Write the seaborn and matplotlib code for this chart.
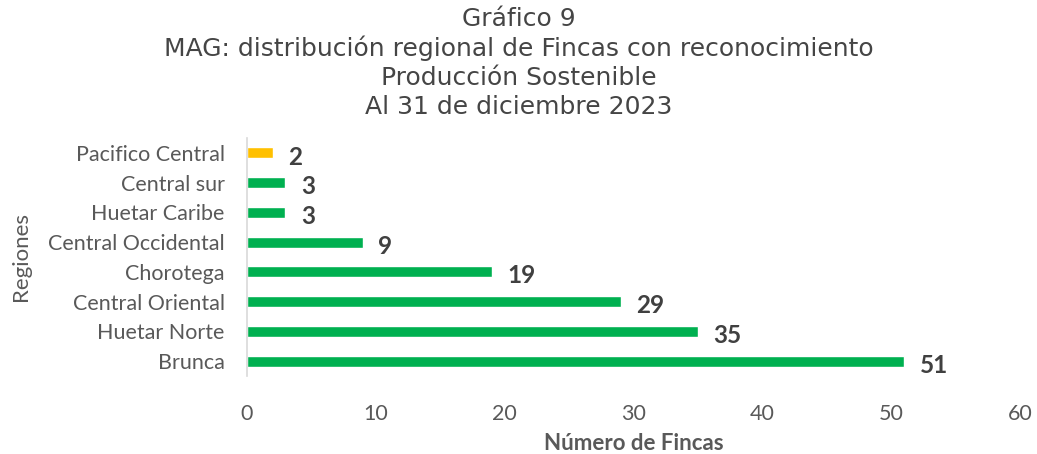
import matplotlib
matplotlib.use('Agg')
import matplotlib.pyplot as plt
import seaborn as sns
import pandas as pd

# Data
regiones = ['Pacifico Central', 'Central sur', 'Huetar Caribe', 'Central Occidental',
            'Chorotega', 'Central Oriental', 'Huetar Norte', 'Brunca']
fincas = [2, 3, 3, 9, 19, 29, 35, 51]
colores = ['#FFC000', '#00B050', '#00B050', '#00B050', '#00B050', '#00B050', '#00B050', '#00B050']

df = pd.DataFrame({'Region': regiones, 'Fincas': fincas})

sns.set_style('white')
plt.rcParams['font.family'] = ['Lato', 'DejaVu Sans']

fig = plt.figure(figsize=(10.37, 4.54), dpi=100)
ax = fig.add_axes([0.238, 0.172, 0.746, 0.524])

sns.barplot(data=df, x='Fincas', y='Region', hue='Region', palette=colores,
            saturation=1, legend=False, width=0.37, ax=ax, orient='h')

# Data labels
for i, v in enumerate(fincas):
    ax.annotate(str(v), xy=(v, i), xytext=(11, -3), textcoords='offset points',
                ha='left', va='center', fontsize=17.5, fontweight='bold', color='#404040')

ax.set_xlim(0, 60)
ax.set_xticks(range(0, 61, 10))
ax.tick_params(axis='x', labelsize=15.5, colors='#595959', length=0, pad=20)
ax.tick_params(axis='y', labelsize=15.5, colors='#595959', length=0, pad=16)

for s in ['top', 'right', 'bottom']:
    ax.spines[s].set_visible(False)
ax.spines['left'].set_color('#D9D9D9')
ax.spines['left'].set_linewidth(1.2)

ax.set_xlabel('Número de Fincas', fontsize=16, fontweight='bold', color='#595959', labelpad=7)
ax.set_ylabel('Regiones', fontsize=16, color='#595959', labelpad=12)
ax.grid(False)

fig.text(0.5, 0.985, 'Gráfico 9\nMAG: distribución regional de Fincas con reconocimiento\n'
         'Producción Sostenible\nAl 31 de diciembre 2023',
         ha='center', va='top', fontsize=18, color='#454545', linespacing=1.25,
         family=['DejaVu Sans'])

fig.savefig('out.png', dpi=100, facecolor='white')
